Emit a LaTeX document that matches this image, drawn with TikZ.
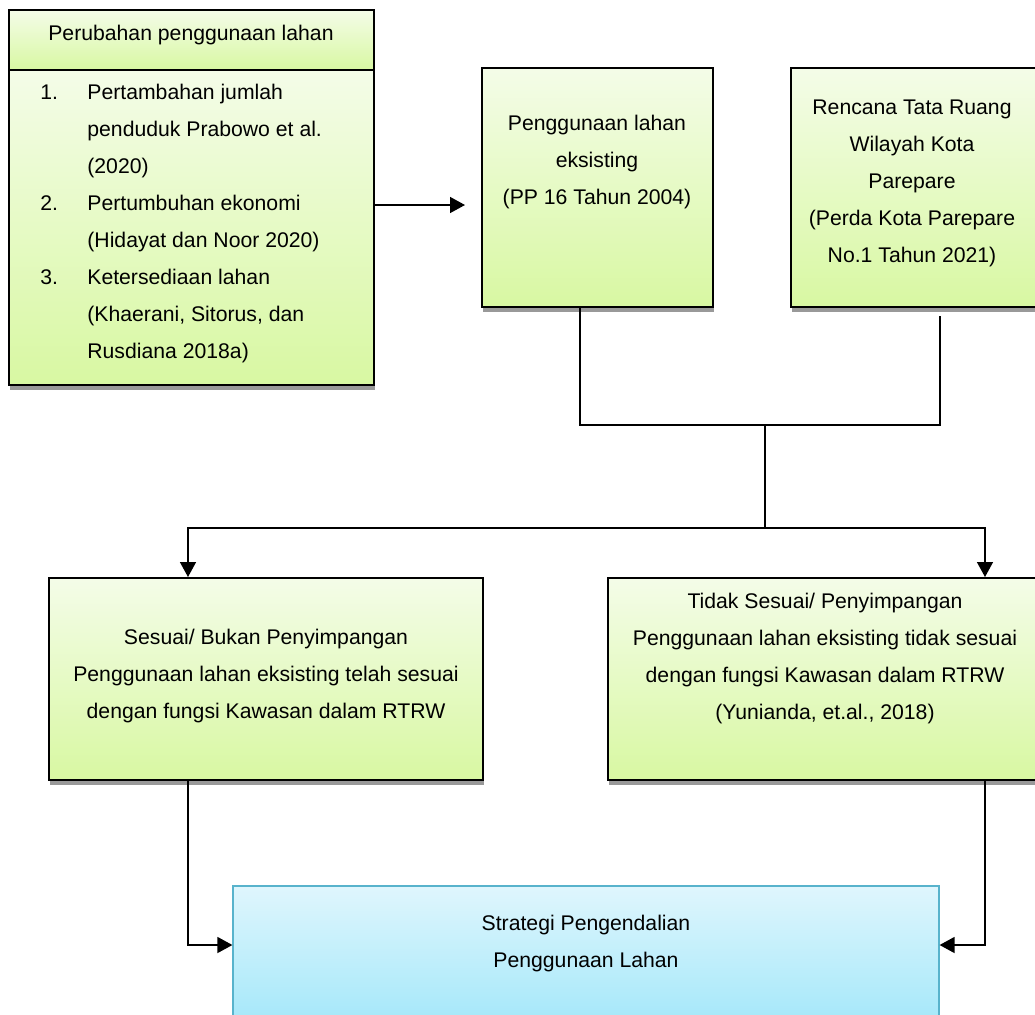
\documentclass[tikz,border=0pt]{standalone}
\usepackage{fontspec}
\setmainfont{Liberation Sans}
\usetikzlibrary{arrows.meta,fit,shadows}

\definecolor{leafTop}{HTML}{F4FCE8}
\definecolor{leafBot}{HTML}{D8F8A2}
\definecolor{skyTop}{HTML}{DFF6FD}
\definecolor{skyBot}{HTML}{A2E7F9}
\definecolor{skyLine}{HTML}{58B3CC}

\begin{document}
\begin{tikzpicture}[x=0.5pt, y=-0.5pt,
    greenbox/.style={draw=black, line width=1pt, top color=leafTop, bottom color=leafBot, inner sep=0pt,
        drop shadow={shadow xshift=0.5pt, shadow yshift=-2.5pt, fill=black!40, opacity=1}},
    bluebox/.style={draw=skyLine, line width=0.6pt, top color=skyTop, bottom color=skyBot, inner sep=0pt},
    boxtext/.style={align=center, inner sep=0pt, font=\fontsize{10.6}{18.5}\selectfont},
    link/.style={line width=0.75pt},
    arrow/.style={link, -{Triangle[width=8pt,length=7.5pt]}}]

    \useasboundingbox (0,0) rectangle (1035,1014);

    % boxes
    \node[greenbox, fit={(9,10) (374,70)}] (judul) {};
    \node[greenbox, fit={(9,70) (374,385)}] (faktor) {};
    \node[greenbox, fit={(482,68) (713,307)}] (eks) {};
    \node[greenbox, fit={(791,68) (1040,307)}] (rtrw) {};
    \node[greenbox, fit={(49,578) (483,780)}] (sesuai) {};
    \node[greenbox, fit={(608,578) (1042,780)}] (tidak) {};
    \node[bluebox, fit={(233,886) (939,1030)}] (strategi) {};

    % texts
    \node[boxtext] (judul-t) at (191,35) {Perubahan penggunaan lahan};
    \node[boxtext, align=left, anchor=west] (faktor-t) at (40,224) {%
        \makebox[23.5pt][l]{1.}Pertambahan jumlah\\
        \makebox[23.5pt][l]{}penduduk Prabowo et al.\\
        \makebox[23.5pt][l]{}(2020)\\
        \makebox[23.5pt][l]{2.}Pertumbuhan ekonomi\\
        \makebox[23.5pt][l]{}(Hidayat dan Noor 2020)\\
        \makebox[23.5pt][l]{3.}Ketersediaan lahan\\
        \makebox[23.5pt][l]{}(Khaerani, Sitorus, dan\\
        \makebox[23.5pt][l]{}Rusdiana 2018a)};
    \node[boxtext] (eks-t) at (597,162) {Penggunaan lahan\\eksisting\\(PP 16 Tahun 2004)};
    \node[boxtext] (rtrw-t) at (912,183) {Rencana Tata Ruang\\Wilayah Kota\\Parepare\\(Perda Kota Parepare\\No.1 Tahun 2021)};
    \node[boxtext] (sesuai-t) at (266,676) {Sesuai/ Bukan Penyimpangan\\Penggunaan lahan eksisting telah sesuai\\dengan fungsi Kawasan dalam RTRW};
    \node[boxtext] (tidak-t) at (825,659) {Tidak Sesuai/ Penyimpangan\\Penggunaan lahan eksisting tidak sesuai\\dengan fungsi Kawasan dalam RTRW\\(Yunianda, et.al., 2018)};
    \node[boxtext] (strategi-t) at (586,944) {Strategi Pengendalian\\Penggunaan Lahan};

    % junctions
    \coordinate (mid) at (0,205);
    \coordinate (c1) at (580,425);
    \coordinate (c2) at (940,425);
    \coordinate (j1) at (765,425);
    \coordinate (j2) at (765,528);
    \coordinate (a1) at (188,528);
    \coordinate (a2) at (985,528);
    \coordinate (b1) at (188,945);
    \coordinate (b2) at (985,945);

    % connectors
    \draw[arrow, shorten >=8pt] (faktor.east |- mid) -- (eks.west |- mid);
    \draw[link] (c1 |- eks.south) -- (c1) -- (c2) -- ([yshift=-4pt]c2 |- rtrw.south);
    \draw[link] (j1) -- (j2);
    \draw[arrow] (j2) -- (a1) -- (a1 |- sesuai.north);
    \draw[arrow] (j2) -- (a2) -- (a2 |- tidak.north);
    \draw[arrow] (a1 |- sesuai.south) -- (b1) -- (b1 -| strategi.west);
    \draw[arrow] (a2 |- tidak.south) -- (b2) -- (b2 -| strategi.east);

\end{tikzpicture}
\end{document}
